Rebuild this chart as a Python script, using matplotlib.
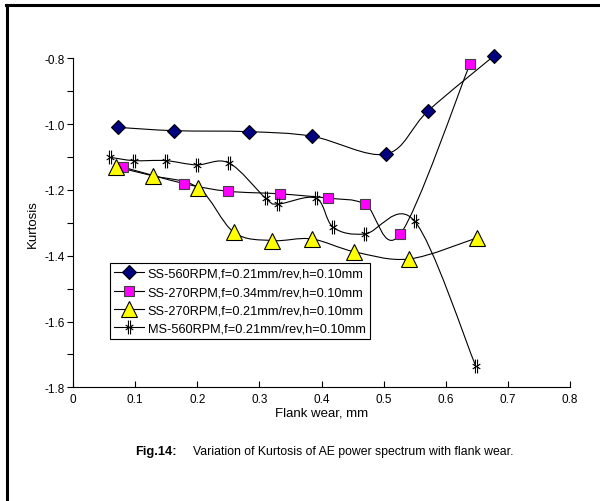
import numpy as np
import matplotlib.pyplot as plt
from matplotlib.path import Path
from matplotlib.patches import PathPatch
from matplotlib.lines import Line2D
from matplotlib.ticker import MultipleLocator

plt.rcParams['font.family'] = ['Liberation Sans', 'DejaVu Sans']

# Datos
ss560_x = [0.073, 0.163, 0.283, 0.385, 0.504, 0.572, 0.678]
ss560_y = [-1.010, -1.020, -1.023, -1.037, -1.091, -0.959, -0.792]

ss270a_x = [0.081, 0.179, 0.249, 0.333, 0.410, 0.470, 0.527, 0.639]
ss270a_y = [-1.131, -1.181, -1.204, -1.212, -1.225, -1.243, -1.334, -0.817]

ss270b_x = [0.070, 0.128, 0.202, 0.259, 0.321, 0.384, 0.453, 0.541, 0.650]
ss270b_y = [-1.131, -1.157, -1.194, -1.329, -1.354, -1.349, -1.388, -1.410, -1.346]

ms560_x = [0.060, 0.098, 0.149, 0.199, 0.251, 0.310, 0.330, 0.391, 0.419, 0.470, 0.550, 0.648]
ms560_y = [-1.101, -1.111, -1.111, -1.124, -1.118, -1.225, -1.243, -1.225, -1.314, -1.334, -1.295, -1.734]

labels = ['SS-560RPM,f=0.21mm/rev,h=0.10mm',
          'SS-270RPM,f=0.34mm/rev,h=0.10mm',
          'SS-270RPM,f=0.21mm/rev,h=0.10mm',
          'MS-560RPM,f=0.21mm/rev,h=0.10mm']

# marcador tipo "estrella" de Excel
ms_marker = Path([(-0.15, -1), (-0.15, 1), (0.15, -1), (0.15, 1),
                  (-0.55, -0.35), (0.55, 0.35), (-0.55, 0.35), (0.55, -0.35)],
                 [Path.MOVETO, Path.LINETO] * 4)


def smooth_path(x, y):
    # curva suavizada (Catmull-Rom como Bezier), igual que la linea suave de Excel
    p = np.column_stack([x, y])
    pts = np.vstack([p[0], p, p[-1]])
    verts = [tuple(p[0])]
    codes = [Path.MOVETO]
    for i in range(1, len(pts) - 2):
        p0, p1, p2, p3 = pts[i - 1], pts[i], pts[i + 1], pts[i + 2]
        c1 = p1 + (p2 - p0) / 6.0
        c2 = p2 - (p3 - p1) / 6.0
        verts += [tuple(c1), tuple(c2), tuple(p2)]
        codes += [Path.CURVE4] * 3
    return Path(verts, codes)


fig = plt.figure(figsize=(6.0, 5.02), dpi=100)
ax = fig.add_axes([73 / 600, 1 - 388.3 / 502, 497 / 600, 329 / 502])

series = [
    (ss560_x, ss560_y, dict(marker='D', markersize=7, markerfacecolor='#000080', markeredgecolor='black')),
    (ss270a_x, ss270a_y, dict(marker='s', markersize=7, markerfacecolor='#ff00ff', markeredgecolor='#404040')),
    (ss270b_x, ss270b_y, dict(marker='^', markersize=11, markerfacecolor='#ffff00', markeredgecolor='black')),
    (ms560_x, ms560_y, dict(marker=ms_marker, markersize=10, markerfacecolor='none', markeredgecolor='black')),
]

handles = []
for (xs, ys, st), lab in zip(series, labels):
    ax.add_patch(PathPatch(smooth_path(xs, ys), facecolor='none', edgecolor='black', lw=0.8,
                           zorder=2, clip_on=False))
    ax.plot(xs, ys, linestyle='none', markeredgewidth=0.8, zorder=3, clip_on=False, **st)
    handles.append(Line2D([], [], color='black', lw=0.8, markeredgewidth=0.8, **st))

ax.set_xlim(0, 0.8)
ax.set_ylim(-1.8, -0.8)
ax.xaxis.set_major_locator(MultipleLocator(0.1))
ax.yaxis.set_major_locator(MultipleLocator(0.2))
ax.yaxis.set_minor_locator(MultipleLocator(0.1))
ax.xaxis.set_major_formatter(plt.FuncFormatter(lambda v, p: '0' if abs(v) < 1e-9 else '%.1f' % v))
ax.yaxis.set_major_formatter(plt.FuncFormatter(lambda v, p: '%.1f' % v))
ax.tick_params(axis='x', direction='in', length=4, width=0.8, labelsize=8.5, pad=4)
ax.tick_params(axis='y', which='both', direction='out', length=4, width=0.8, labelsize=8.5, pad=2)
for s in ['top', 'right']:
    ax.spines[s].set_visible(False)
for s in ['left', 'bottom']:
    ax.spines[s].set_linewidth(0.8)

ax.set_xlabel('Flank wear, mm', fontsize=9.5, labelpad=1)
ax.set_ylabel('Kurtosis', fontsize=9.5, labelpad=4)

leg = ax.legend(handles, labels, loc='upper left', bbox_to_anchor=((110 - 73) / 497, (388.3 - 264.3) / 329),
                fontsize=9.2, frameon=True, fancybox=False, edgecolor='black', framealpha=1,
                handlelength=2.3, handletextpad=0.3, borderpad=0.35, labelspacing=0.5,
                borderaxespad=0)
leg.get_frame().set_linewidth(0.8)

fig.text(135 / 600, 1 - 452 / 502, 'Fig.14:', fontsize=9.3, fontweight='bold', va='center')
fig.text(193 / 600, 1 - 452 / 502, 'Variation of Kurtosis of AE power spectrum with flank wear.',
         fontsize=8.8, va='center')

# borde del cuadro
fig.add_artist(Line2D([7 / 600, 7 / 600], [0, 1 - 5.5 / 502], color='black', lw=2.2, transform=fig.transFigure))
fig.add_artist(Line2D([6 / 600, 1], [1 - 5.5 / 502, 1 - 5.5 / 502], color='black', lw=2.2, transform=fig.transFigure))

fig.savefig('out.png', dpi=100)
